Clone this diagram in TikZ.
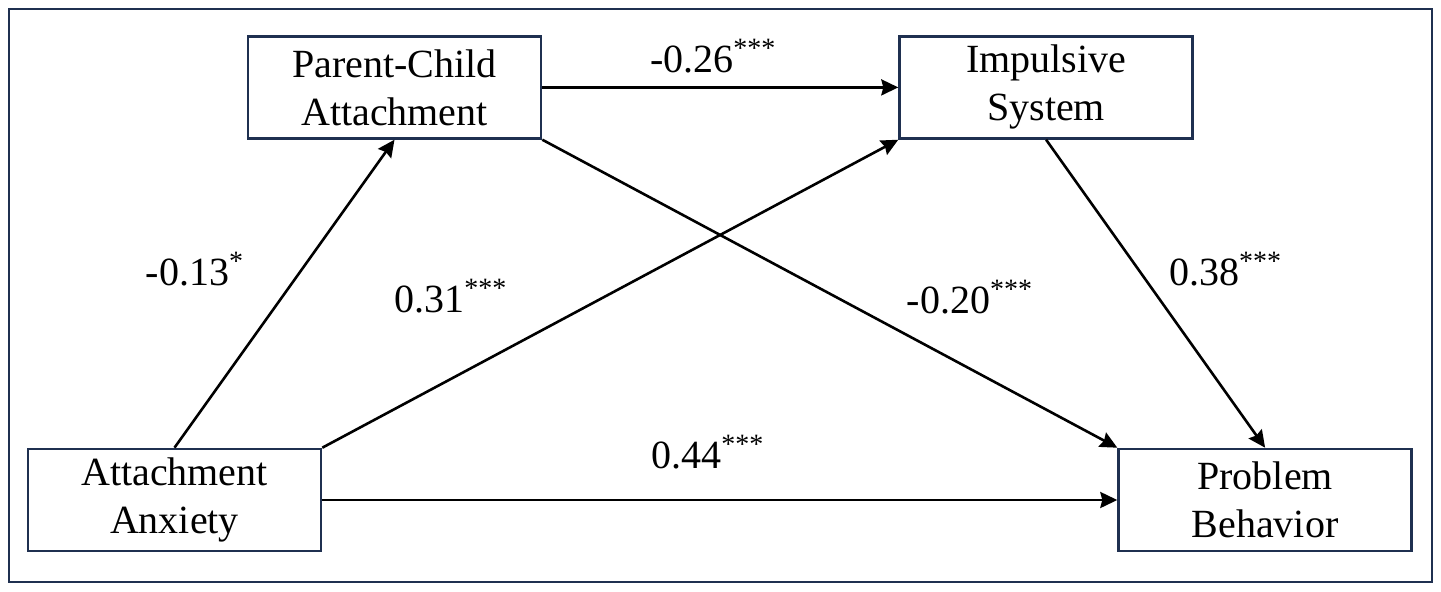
\documentclass[tikz,border=0pt]{standalone}
\usepackage{fontspec}
\setmainfont{Liberation Serif}
\usepackage{tikz}
\usetikzlibrary{positioning, arrows.meta}
\definecolor{navy}{HTML}{1F3050}

\begin{document}
\begin{tikzpicture}[
    box/.style={draw=navy, line width=1.3pt, minimum width=146.5pt, minimum height=51pt,
      align=center, font=\fontsize{20}{24}\selectfont},
    lab/.style={font=\fontsize{20}{24}\selectfont},
    arr/.style={line width=1.3pt, -{Stealth[length=8.5pt,width=8pt,inset=1pt]}}]
  \useasboundingbox (-87.25pt,-45.5pt) rectangle (633.25pt,250pt);
  \draw[navy, line width=1.2pt] (-82.75pt,-41pt) rectangle (628.75pt,245.5pt);

  \node[box]  (aa)  {Attachment\\Anxiety};
  \node[box, above = 154pt of aa, xshift=110pt]  (pca)  {Parent-Child\\Attachment};
  \node[box, right = 178pt of pca]  (is)  {Impulsive\\System};
  \node[box, right = 397.5pt of aa]  (pb)  {Problem\\Behavior};

  \draw[arr] (pca.east) -- node[lab, above=3pt, xshift=-3.5pt]  {-0.26\textsuperscript{***}} (is.west);
  \draw[arr] (aa.north) -- node[lab, pos=0.58, left=25pt]  {-0.13\textsuperscript{*}} (pca.south);
  \draw[arr] (aa.north east) -- node[lab, pos=0.335, above left=11.5pt and 0pt]  {0.31\textsuperscript{***}} (is.south west);
  \draw[arr] (pca.south east) -- node[lab, pos=0.62, above right=4.5pt and 0pt]  {-0.20\textsuperscript{***}} (pb.north west);
  \draw[arr] (is.south) -- node[lab, pos=0.42, right=11.5pt]  {0.38\textsuperscript{***}} (pb.north);
  \draw[arr] (aa.east) -- node[lab, above=11.5pt, xshift=-6pt]  {0.44\textsuperscript{***}} (pb.west);
\end{tikzpicture}
\end{document}
